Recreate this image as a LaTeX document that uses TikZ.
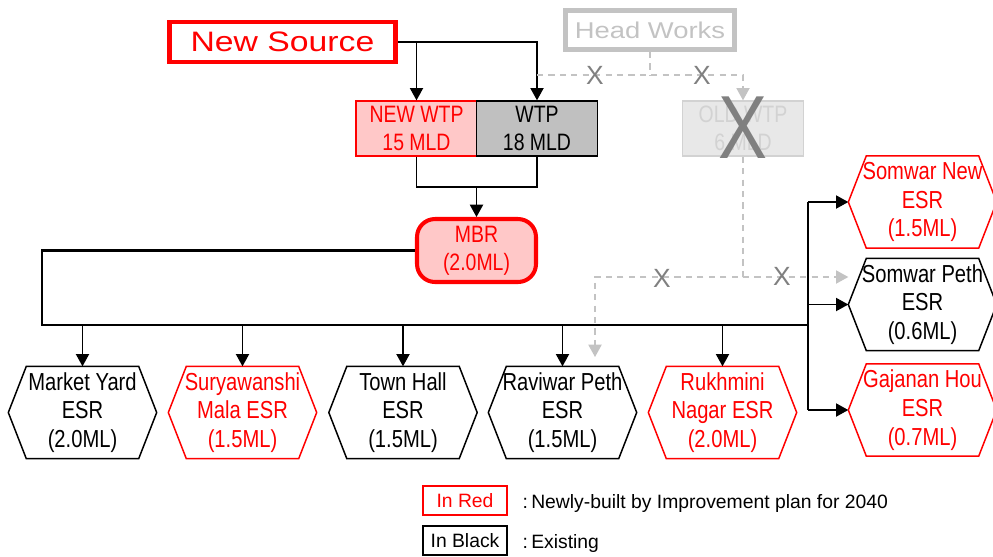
\documentclass[tikz,border=0pt]{standalone}
\usepackage{fontspec}
\setmainfont{Liberation Sans}
\newfontfamily\narrowfont[FakeStretch=0.82]{Liberation Sans}
\newfontfamily\widefont[FakeStretch=1.2]{Liberation Sans}
\usetikzlibrary{arrows.meta}

\definecolor{newred}{RGB}{255,0,0}
\definecolor{newfill}{RGB}{255,200,200}
\definecolor{wtpgray}{RGB}{192,192,192}
\definecolor{oldfill}{RGB}{232,232,232}
\definecolor{oldline}{RGB}{210,210,210}
\definecolor{lgray}{RGB}{195,195,195}
\definecolor{dgray}{RGB}{128,128,128}

\tikzset{
  arr/.style={-{Triangle[length=7pt,width=7.5pt]}},
  gdash/.style={lgray, line width=0.8pt, dash pattern=on 3.5pt off 3pt},
  plant/.style={draw, line width=0.8pt, minimum width=2.42cm, minimum height=1.1cm, align=center,
    inner sep=0pt, font=\narrowfont\fontsize{13.5}{15.7}\selectfont},
  tank/.style={minimum width=2.94cm, minimum height=1.82cm, align=center, inner sep=0pt,
    font=\narrowfont\fontsize{14}{16.4}\selectfont},
  xmark/.style={text=dgray, inner sep=0pt, font=\fontsize{15}{15}\selectfont},
  keybox/.style={draw, line width=0.6pt, minimum width=1.68cm, minimum height=0.58cm, inner sep=0pt,
    font=\fontsize{11}{11}\selectfont},
  keytext/.style={anchor=west, inner sep=0pt, font=\fontsize{11}{11}\selectfont},
}

\begin{document}
\begin{tikzpicture}[x=0.02cm, y=-0.02cm, line width=0.8pt]
    \useasboundingbox (0,0) rectangle (993,556);

    % Sources and plants
    \node[draw=newred, line width=2.8pt, minimum width=4.52cm, minimum height=0.8cm, text=newred,
      font=\widefont\fontsize{16}{16}\selectfont] (src) at (282.5,42) {New Source};
    \node[draw=lgray, line width=2.8pt, minimum width=3.38cm, minimum height=0.78cm, text=lgray,
      font=\widefont\fontsize{13}{13}\selectfont] (head) at (650,30) {Head Works};
    \node[plant, draw=newred, fill=newfill, text=newred] (newwtp) at (416.5,128.5) {NEW WTP\\15 MLD};
    \node[plant, fill=wtpgray] (wtp) at (537,128.5) {WTP\\18 MLD};
    \node[plant, draw=oldline, fill=oldfill, text=oldline] (oldwtp) at (743,128.5) {OLD WTP\\6 MLD};
    \node[draw=newred, line width=2.3pt, fill=newfill, rounded corners=0.36cm, minimum width=2.38cm,
      minimum height=1.26cm, text=newred, align=center,
      font=\narrowfont\fontsize{13.5}{15.7}\selectfont] (mbr) at (476.5,250.5) {MBR\\(2.0ML)};

    % Reservoirs
    \node[tank] (my) at (82.5,412.5) {Market Yard\\ESR\\(2.0ML)};
    \node[tank, text=newred] (sm) at (242.5,412.5) {Suryawanshi\\Mala ESR\\(1.5ML)};
    \node[tank] (th) at (403,412.5) {Town Hall\\ESR\\(1.5ML)};
    \node[tank] (rp) at (562.5,412.5) {Raviwar Peth\\ESR\\(1.5ML)};
    \node[tank, text=newred] (rn) at (722.5,412.5) {Rukhmini\\Nagar ESR\\(2.0ML)};
    \node[tank, text=newred] (sn) at (922.5,202) {Somwar New\\ESR\\(1.5ML)};
    \node[tank] (sp) at (922.5,304.5) {Somwar Peth\\ESR\\(0.6ML)};
    \node[tank, text=newred] (gh) at (922.5,410) {Gajanan Hou\\ESR\\(0.7ML)};
    \foreach \n/\c in {my/black, sm/newred, th/black, rp/black, rn/newred, sn/newred, sp/black, gh/newred}
        \draw[\c, line width=0.85pt] (\n.west) -- ([xshift=0.36cm]\n.north west) -- ([xshift=-0.36cm]\n.north east)
          -- (\n.east) -- ([xshift=-0.36cm]\n.south east) -- ([xshift=0.36cm]\n.south west) -- cycle;

    % Junctions
    \coordinate (jm) at (476.5,187);
    \coordinate (hw) at (650,75);
    \coordinate (bl) at (42,325);
    \coordinate (br) at (808,325);
    \coordinate (ow) at (743,277);
    \coordinate (rv) at (595,357);

    % Edges
    \draw[arr] (src.east) -| (wtp.north);
    \draw[arr] (src.east -| newwtp.north) -- (newwtp.north);
    \draw (newwtp.south) |- (jm) -| (wtp.south);
    \draw[arr] (jm) -- (mbr.north);
    \draw[line width=1.4pt] (mbr.west) -| (bl) -- (br);
    \draw (br |- sn.west) -- (br |- gh.west);
    \foreach \n in {sn, sp, gh}
        \draw[arr] (br |- \n.west) -- (\n.west);
    \foreach \n in {my, sm, th, rp, rn}
        \draw[arr] (\n.north |- br) -- (\n.north);

    % Old lines, cut off
    \draw[gdash] (head.south) -- (hw);
    \draw[gdash, -{Triangle[length=7pt,width=7.5pt]}] (wtp.north |- hw) -| (oldwtp.north);
    \draw[gdash, -{Triangle[length=7pt,width=7.5pt]}] (oldwtp.south) -- (ow) -| (rv);
    \draw[gdash, -{Triangle[length=7pt,width=7.5pt]}] (ow) -- (sp.west |- ow);
    \node[xmark] (x1) at (595,75) {X};
    \node[xmark] (x2) at (702,75) {X};
    \node[xmark] (x3) at (662,278) {X};
    \node[xmark] (x4) at (782,276) {X};
    \node[text=dgray, inner sep=0pt, font=\narrowfont\fontsize{51}{51}\selectfont] (xold) at (743,128) {X};

    % Key
    \node[keybox, draw=newred, text=newred] (kred) at (465,500.5) {In Red};
    \node[keytext] (tred) at (522,503) {:\,Newly-built by Improvement plan for 2040};
    \node[keybox] (kblack) at (465,540.5) {In Black};
    \node[keytext] (tblack) at (522,543) {:\,Existing};
\end{tikzpicture}
\end{document}
